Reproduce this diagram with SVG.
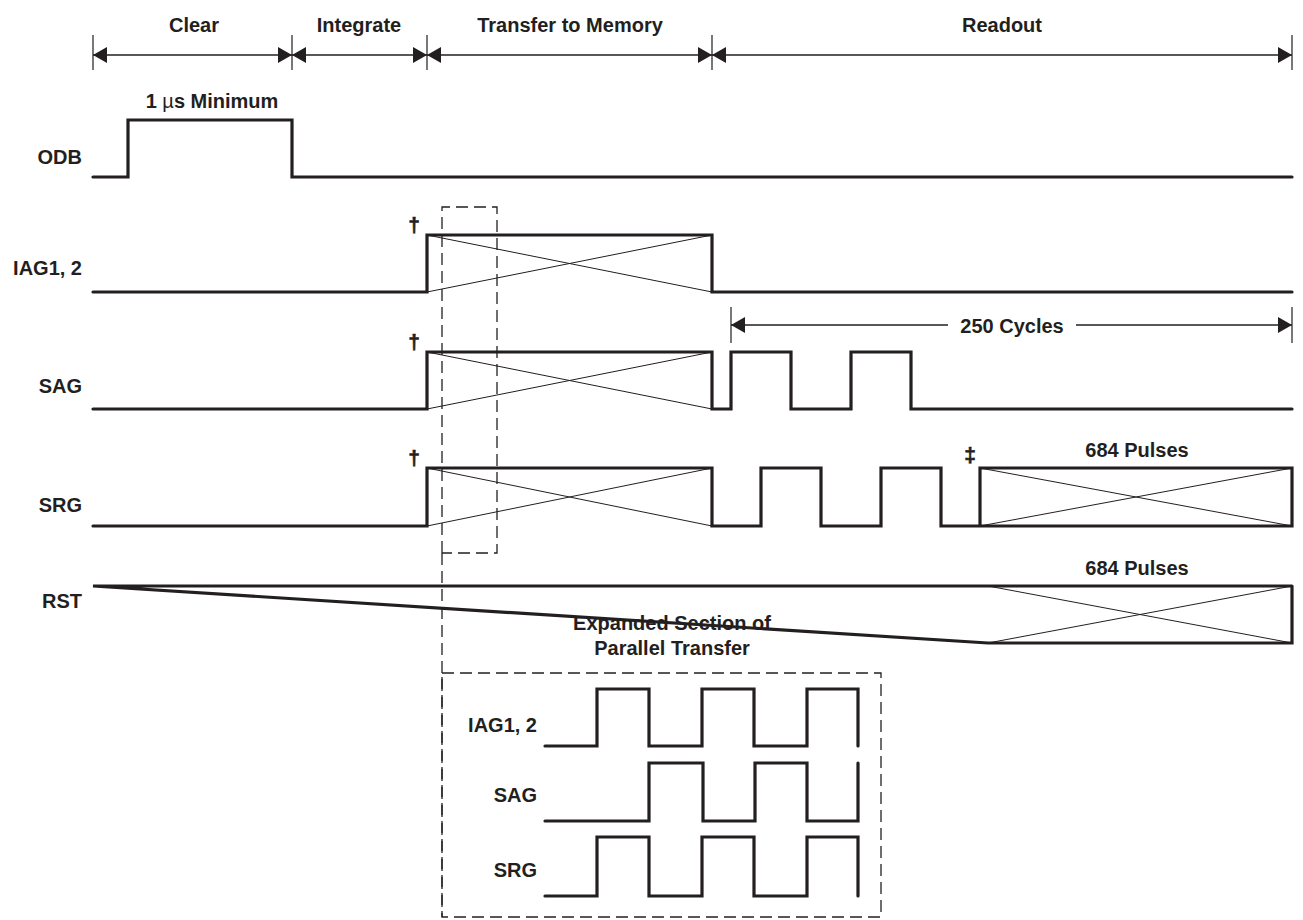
<svg xmlns="http://www.w3.org/2000/svg" width="1303" height="920" viewBox="0 0 1303 920">
<style>
text{font-family:"Liberation Sans",Arial,sans-serif;font-weight:bold;font-size:20px;fill:#231f20}
.lbl{text-anchor:end}
.mid{text-anchor:middle}
.dg{font-size:21px;stroke:#231f20;stroke-width:0.6}
.sig{fill:none;stroke:#231f20;stroke-width:3.2;stroke-linejoin:miter;stroke-linecap:round}
.x{fill:none;stroke:#231f20;stroke-width:1}
.dim{fill:none;stroke:#231f20;stroke-width:1.4}
.tick{fill:none;stroke:#231f20;stroke-width:1.2}
.dash{fill:none;stroke:#231f20;stroke-width:1.3;stroke-dasharray:12 6}
.mk{fill:#231f20}
</style>
<defs>
<marker id="ah" viewBox="-14 -8 14 16" refX="0" refY="0" markerWidth="14" markerHeight="16" markerUnits="userSpaceOnUse" orient="auto-start-reverse">
<path class="mk" d="M0,0 L-14,-8 L-14,8 Z"/>
</marker>
</defs>
<rect width="1303" height="920" fill="#ffffff"/>

<g id="phases">
<text class="mid" x="194" y="32">Clear</text>
<text class="mid" x="359" y="32">Integrate</text>
<text class="mid" x="570" y="32">Transfer to Memory</text>
<text class="mid" x="1002" y="32">Readout</text>
</g>

<g id="connectors">
<path class="tick" d="M93,35V70M292,35V70M427,35V70M712,35V70M1292,35V70"/>
<line class="dim" x1="93" y1="55" x2="292" y2="55" marker-start="url(#ah)" marker-end="url(#ah)"/>
<line class="dim" x1="292" y1="55" x2="427" y2="55" marker-start="url(#ah)" marker-end="url(#ah)"/>
<line class="dim" x1="427" y1="55" x2="712" y2="55" marker-start="url(#ah)" marker-end="url(#ah)"/>
<line class="dim" x1="712" y1="55" x2="1292" y2="55" marker-start="url(#ah)" marker-end="url(#ah)"/>
<path class="tick" d="M731,307V343M1292,307V343"/>
<line class="dim" x1="731" y1="325" x2="948" y2="325" marker-start="url(#ah)"/>
<line class="dim" x1="1076" y1="325" x2="1292" y2="325" marker-end="url(#ah)"/>
<text class="mid" x="1012" y="333">250 Cycles</text>
</g>

<g id="odb">
<text class="lbl" x="82" y="164">ODB</text>
<text class="mid" x="212" y="108">1 <tspan font-weight="normal">µ</tspan>s Minimum</text>
<path class="sig" d="M93,177H128V120H292V177H1292"/>
</g>

<g id="iag">
<text class="lbl" x="82" y="275">IAG1, 2</text>
<text class="mid dg" x="414" y="232">†</text>
<path class="sig" d="M93,292H427V235H712V292H1292"/>
<path class="x" d="M427,235L712,292M427,292L712,235"/>
</g>

<g id="sag">
<text class="lbl" x="82" y="393">SAG</text>
<text class="mid dg" x="414" y="349">†</text>
<path class="sig" d="M93,409H427V352H712V409H731V352H791V409H851V352H911V409H1292"/>
<path class="x" d="M427,352L712,409M427,409L712,352"/>
</g>

<g id="srg">
<text class="lbl" x="82" y="512">SRG</text>
<text class="mid dg" x="414" y="465">†</text>
<text class="mid dg" x="970" y="462">‡</text>
<text class="mid" x="1137" y="457">684 Pulses</text>
<path class="sig" d="M93,526H427V468H712V526H761V468H821V526H881V468H941V526H980V468H1292V526H980"/>
<path class="x" d="M427,468L712,526M427,526L712,468M980,468L1292,526M980,526L1292,468"/>
</g>

<g id="rst">
<text class="lbl" x="82" y="608">RST</text>
<text class="mid" x="1137" y="575">684 Pulses</text>
<path class="sig" d="M1292,586H93L988,643H1292V586"/>
<path class="x" d="M988,586L1292,643M988,643L1292,586"/>
</g>

<g id="expand-marker">
<path class="dash" d="M442,553V207H497V553H442"/>
<path class="dash" d="M442,553V917"/>
<rect class="dash" x="442" y="673" width="439" height="244"/>
<text class="mid" x="672" y="630">Expanded Section of</text>
<text class="mid" x="672" y="655">Parallel Transfer</text>
</g>

<g id="exp-iag">
<text class="lbl" x="537" y="732">IAG1, 2</text>
<path class="sig" d="M545,746H597V689H649V746H702V689H754V746H807V689H858V746"/>
</g>

<g id="exp-sag">
<text class="lbl" x="537" y="802">SAG</text>
<path class="sig" d="M545,821H649V763H703V821H755V763H807V821H858V763"/>
</g>

<g id="exp-srg">
<text class="lbl" x="537" y="877">SRG</text>
<path class="sig" d="M545,896H597V837H649V896H702V837H754V896H807V837H858V896"/>
</g>
</svg>
